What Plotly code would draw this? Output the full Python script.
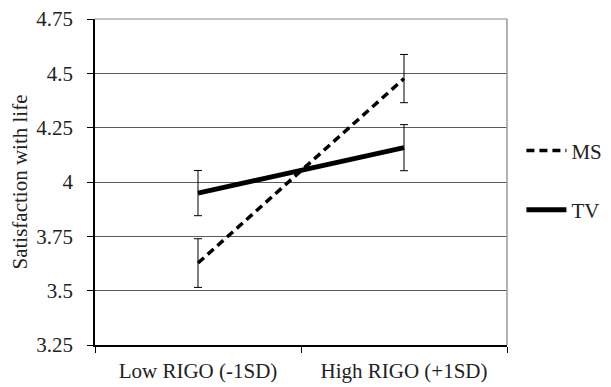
import plotly.graph_objects as go

categories = ["Low RIGO (-1SD)", "High RIGO (+1SD)"]
ms_values = [3.627, 4.476]
ms_errors = [0.112, 0.111]
tv_values = [3.949, 4.158]
tv_errors = [0.104, 0.106]
y_ticks = [3.25, 3.5, 3.75, 4, 4.25, 4.5, 4.75]
y_ticktext = ["3.25", "3.5", "3.75", "4", "4.25", "4.5", "4.75"]

FONT = "Liberation Serif"
FS = 21

fig = go.Figure()
fig.add_trace(go.Scatter(
    x=categories, y=ms_values, name="MS", mode="lines", legendgroup="ms",
    line=dict(color="black", width=3.5, dash="8px,5px"),
    error_y=dict(type="data", array=ms_errors, color="black", thickness=1, width=4),
))
fig.add_trace(go.Scatter(
    x=categories, y=tv_values, name="TV", mode="lines", legendgroup="tv",
    line=dict(color="black", width=5),
    error_y=dict(type="data", array=tv_errors, color="black", thickness=1, width=4),
))

fig.update_layout(
    width=603, height=379,
    margin=dict(l=87, r=104, t=11, b=42, autoexpand=False),
    paper_bgcolor="white", plot_bgcolor="white",
    font=dict(family=FONT, size=FS, color="#222"),
    showlegend=True,
    legend=dict(x=1.035, y=0.505, xanchor="left", yanchor="middle",
                font=dict(family=FONT, size=FS, color="#222"),
                tracegroupgap=29, itemwidth=40, bgcolor="rgba(0,0,0,0)"),
    xaxis=dict(
        type="category", tickson="boundaries", ticks="outside", ticklen=6,
        tickcolor="black", showline=True, linecolor="black", linewidth=1.5,
        showgrid=False, tickfont=dict(family=FONT, size=FS, color="#222"),
        ticklabelstandoff=6, range=[-0.5, 1.5], automargin=False,
        ticklabeloverflow="allow",
    ),
    yaxis=dict(
        range=[3.25, 4.7501], tickvals=y_ticks, ticktext=y_ticktext,
        ticks="outside", ticklen=6, tickcolor="black",
        showline=True, linecolor="black", linewidth=1.5,
        showgrid=True, gridcolor="#5a5a5a", gridwidth=1, zeroline=False,
        ticklabelstandoff=10, automargin=False, ticklabeloverflow="allow",
        tickfont=dict(family=FONT, size=FS, color="#222"),
        title=dict(text="Satisfaction with life", standoff=7,
                   font=dict(family=FONT, size=FS, color="#222")),
    ),
)
fig.add_shape(type="line", xref="paper", yref="paper", x0=1, x1=1, y0=0, y1=1,
              line=dict(color="#999", width=1.5))
fig.add_shape(type="line", xref="paper", yref="paper", x0=0, x1=1, y0=1, y1=1,
              line=dict(color="#888", width=1.2))
fig.write_html("out.html")
